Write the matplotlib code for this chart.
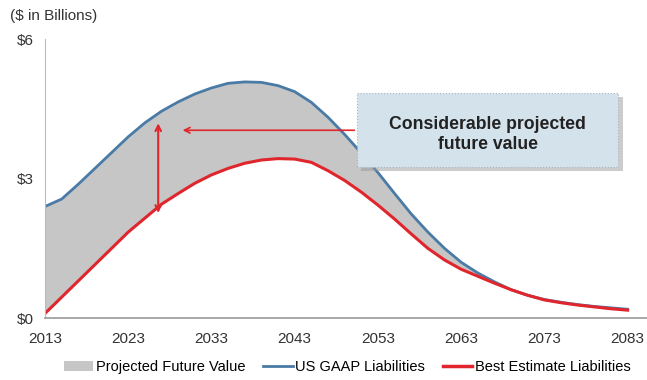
import matplotlib.pyplot as plt
from matplotlib.patches import Rectangle, Patch
from matplotlib.lines import Line2D

plt.rcParams['font.family'] = ['Liberation Sans', 'DejaVu Sans']

years = [2013, 2015, 2017, 2019, 2021, 2023, 2025, 2027, 2029, 2031, 2033, 2035,
         2037, 2039, 2041, 2043, 2045, 2047, 2049, 2051, 2053, 2055, 2057, 2059,
         2061, 2063, 2065, 2067, 2069, 2071, 2073, 2075, 2077, 2079, 2081, 2083]

gaap = [2.40, 2.56, 2.88, 3.22, 3.56, 3.90, 4.20, 4.45, 4.65, 4.82, 4.95, 5.05,
        5.08, 5.07, 5.00, 4.87, 4.64, 4.32, 3.95, 3.55, 3.13, 2.68, 2.24, 1.85,
        1.50, 1.20, 0.97, 0.78, 0.61, 0.49, 0.40, 0.34, 0.29, 0.25, 0.22, 0.19]

best_est = [0.10, 0.45, 0.80, 1.15, 1.50, 1.85, 2.15, 2.45, 2.68, 2.90, 3.08, 3.22,
            3.33, 3.40, 3.43, 3.42, 3.35, 3.17, 2.96, 2.71, 2.43, 2.13, 1.81, 1.50,
            1.25, 1.05, 0.90, 0.75, 0.61, 0.49, 0.39, 0.33, 0.28, 0.24, 0.20, 0.17]

xticks = [2013, 2023, 2033, 2043, 2053, 2063, 2073, 2083]
yticks = [0, 3, 6]
ytick_labels = ['$0', '$3', '$6']

blue = '#4a7ba6'
red = '#e0262c'
gray = '#c6c6c6'

fig = plt.figure(figsize=(6.47, 3.8), dpi=100)
ax = fig.add_axes([0.0696, 0.163, 0.930, 0.734])

ax.fill_between(years, best_est, gaap, color=gray, lw=0)
ax.plot(years, gaap, color=blue, lw=2)
ax.plot(years, best_est, color=red, lw=2.2)

ax.set_xlim(2013, 2085.3)
ax.set_ylim(0, 6)
ax.set_xticks(xticks)
ax.set_yticks(yticks)
ax.set_yticklabels(ytick_labels)
ax.tick_params(axis='x', length=0, labelsize=11, colors='#333333', pad=10)
ax.tick_params(axis='y', length=0, labelsize=11, colors='#333333', pad=8)
for s in ['top', 'right']:
    ax.spines[s].set_visible(False)
ax.spines['left'].set_color('#bbbbbb')
ax.spines['bottom'].set_color('#999999')
ax.spines['bottom'].set_linewidth(1.2)

fig.text(0.015, 0.958, '($ in Billions)', fontsize=11, color='#333333', va='center')

# callout box with shadow
ax.add_patch(Rectangle((2051.0, 3.17), 31.4, 1.59, facecolor='#9a9a9a', alpha=0.5,
                       edgecolor='none', zorder=4))
ax.add_patch(Rectangle((2050.5, 3.25), 31.4, 1.59, facecolor='#d3e2eb',
                       edgecolor='#aab4bb', lw=0.8, ls=':', zorder=5))
ax.text(2066.2, 3.95, 'Considerable projected\nfuture value', ha='center', va='center',
        fontsize=12.7, fontweight='bold', color='#222222', zorder=6, linespacing=1.25)

# arrows
ax.annotate('', xy=(2029.2, 4.04), xytext=(2050.5, 4.04),
            arrowprops=dict(arrowstyle='->', color=red, lw=1.2), zorder=3)
ax.annotate('', xy=(2026.6, 4.25), xytext=(2026.6, 2.2),
            arrowprops=dict(arrowstyle='<->', color=red, lw=1.5), zorder=3)

handles = [Patch(facecolor=gray, edgecolor='none', label='Projected Future Value'),
           Line2D([], [], color=blue, lw=2, label='US GAAP Liabilities'),
           Line2D([], [], color=red, lw=2.5, label='Best Estimate Liabilities')]
fig.legend(handles=handles, loc='center', bbox_to_anchor=(0.537, 0.034), ncol=3,
           frameon=False, fontsize=10.5, handlelength=2.0, handletextpad=0.2,
           columnspacing=1.2, borderaxespad=0, borderpad=0)

fig.savefig('out.png', dpi=100)
